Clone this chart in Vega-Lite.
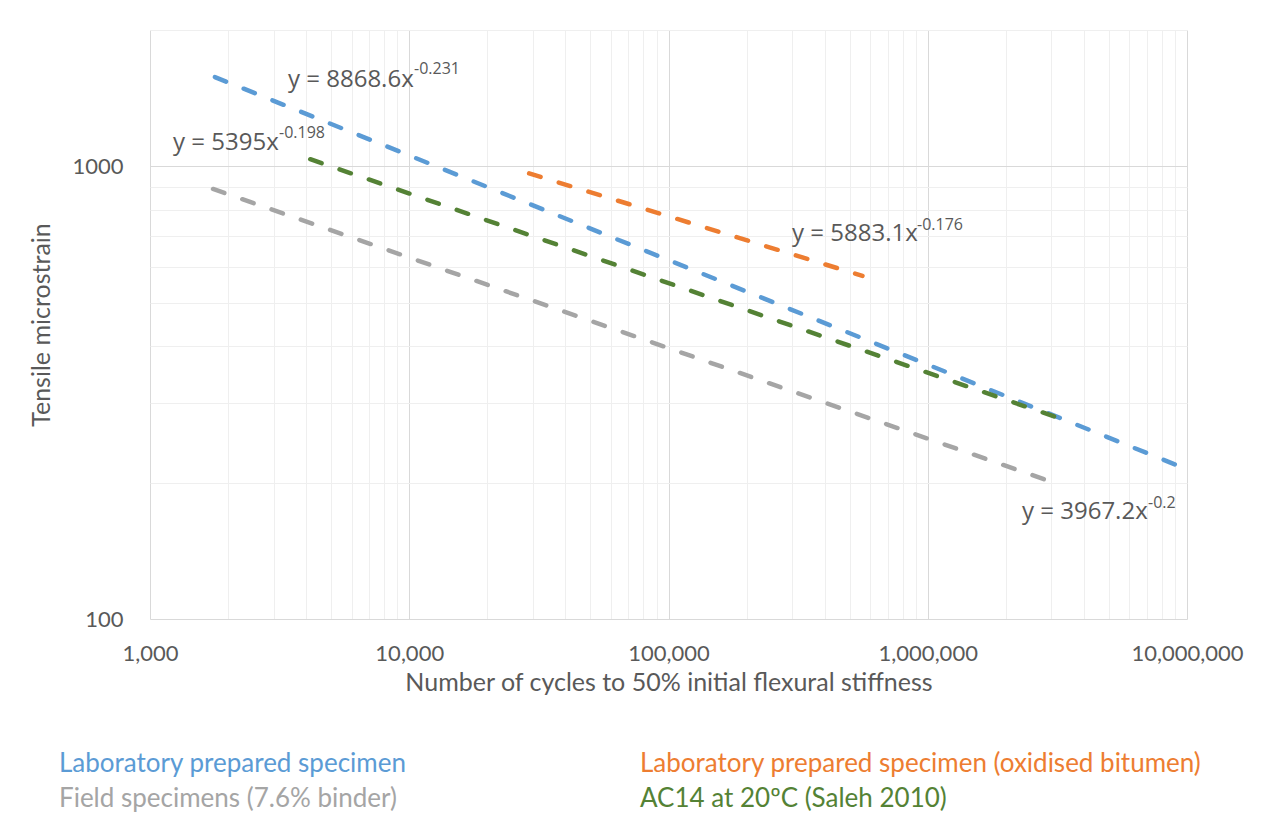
{
  "$schema": "https://vega.github.io/schema/vega-lite/v6.json",
  "width": 1037,
  "height": 589,
  "autosize": {"type": "none"},
  "padding": {"left": 150, "top": 30, "right": 80, "bottom": 205},
  "background": "white",
  "config": {
    "view": {"stroke": null},
    "font": "Lato",
    "axis": {
      "ticks": false,
      "domain": false,
      "labelFontSize": 22,
      "labelColor": "#595959",
      "labelFont": "Lato",
      "titleFont": "Lato",
      "titleFontSize": 25,
      "titleFontWeight": "normal",
      "titleColor": "#595959",
      "labelOverlap": false,
      "labelBound": false,
      "labelFlush": false,
      "gridWidth": 1
    },
    "legend": {
      "orient": "none",
      "legendX": -117,
      "legendY": 721,
      "columns": 2,
      "columnPadding": 207,
      "rowPadding": 9,
      "labelFontSize": 26,
      "labelFont": "Lato",
      "symbolOpacity": 0,
      "symbolSize": 0,
      "symbolStrokeWidth": 0,
      "labelOffset": 0,
      "labelLimit": 0,
      "title": null
    }
  },
  "datasets": {
    "lines": [
      {"series": "Laboratory prepared specimen", "cycles": 1780, "strain": 1573.9},
      {"series": "Laboratory prepared specimen", "cycles": 10000000, "strain": 214.2},
      {"series": "Laboratory prepared specimen (oxidised bitumen)", "cycles": 29000, "strain": 964.3},
      {"series": "Laboratory prepared specimen (oxidised bitumen)", "cycles": 560000, "strain": 572.7},
      {"series": "Field specimens (7.6% binder)", "cycles": 1750, "strain": 890.9},
      {"series": "Field specimens (7.6% binder)", "cycles": 2850000, "strain": 203.0},
      {"series": "AC14 at 20ºC (Saleh 2010)", "cycles": 4150, "strain": 1036.5},
      {"series": "AC14 at 20ºC (Saleh 2010)", "cycles": 3400000, "strain": 274.6}
    ],
    "labels": [
      {"eq": "y = 8868.6x", "sup": "-0.231", "start": 3407, "junction": 10430, "strain": 1551, "supStrain": 1640},
      {"eq": "y = 5395x", "sup": "-0.198", "start": 1227, "junction": 3146, "strain": 1125, "supStrain": 1185},
      {"eq": "y = 5883.1x", "sup": "-0.176", "start": 299600, "junction": 909000, "strain": 707, "supStrain": 740},
      {"eq": "y = 3967.2x", "sup": "-0.2", "start": 2310000, "junction": 7073000, "strain": 172.6, "supStrain": 180}
    ]
  },
  "layer": [
    {
      "data": {"name": "lines"},
      "mark": {"type": "line", "strokeWidth": 4.5, "strokeDash": [12, 19], "strokeCap": "round"},
      "encoding": {
        "x": {
          "field": "cycles",
          "type": "quantitative",
          "scale": {"type": "log", "domain": [1000, 10000000], "nice": false},
          "axis": {
            "title": "Number of cycles to 50% initial flexural stiffness",
            "values": [1000, 2000, 3000, 4000, 5000, 6000, 7000, 8000, 9000, 10000, 20000, 30000, 40000, 50000, 60000, 70000, 80000, 90000, 100000, 200000, 300000, 400000, 500000, 600000, 700000, 800000, 900000, 1000000, 2000000, 3000000, 4000000, 5000000, 6000000, 7000000, 8000000, 9000000, 10000000],
            "labelExpr": "indexof([1000, 10000, 100000, 1000000, 10000000], datum.value) >= 0 ? format(datum.value, ',') : ''",
            "labelPadding": 24,
            "titlePadding": 6,
            "gridColor": {"condition": {"test": "indexof([1000, 10000, 100000, 1000000, 10000000], datum.value) >= 0", "value": "#d9d9d9"}, "value": "#efefef"}
          }
        },
        "y": {
          "field": "strain",
          "type": "quantitative",
          "scale": {"type": "log", "domain": [100, 2000], "nice": false},
          "axis": {
            "title": "Tensile microstrain",
            "values": [100, 200, 300, 400, 500, 600, 700, 800, 900, 1000, 2000],
            "labelExpr": "indexof([100, 1000], datum.value) >= 0 ? format(datum.value, 'd') : ''",
            "labelPadding": 27,
            "titlePadding": 17,
            "gridColor": {"condition": {"test": "indexof([100, 1000], datum.value) >= 0", "value": "#d9d9d9"}, "value": "#efefef"}
          }
        },
        "color": {
          "field": "series",
          "type": "nominal",
          "scale": {
            "domain": ["Laboratory prepared specimen", "Field specimens (7.6% binder)", "Laboratory prepared specimen (oxidised bitumen)", "AC14 at 20ºC (Saleh 2010)"],
            "range": ["#5B9BD5", "#A5A5A5", "#ED7D31", "#548235"]
          },
          "legend": {
            "labelColor": {"expr": "scale('color', datum.value)"}
          }
        }
      }
    },
    {
      "data": {"name": "labels"},
      "mark": {"type": "text", "align": "left", "baseline": "middle", "fontSize": 24, "color": "#595959", "font": "Open Sans"},
      "encoding": {
        "x": {"field": "start", "type": "quantitative"},
        "y": {"field": "strain", "type": "quantitative"},
        "text": {"field": "eq"}
      }
    },
    {
      "data": {"name": "labels"},
      "mark": {"type": "text", "align": "left", "baseline": "middle", "fontSize": 16, "color": "#595959", "font": "Open Sans"},
      "encoding": {
        "x": {"field": "junction", "type": "quantitative"},
        "y": {"field": "supStrain", "type": "quantitative"},
        "text": {"field": "sup"}
      }
    }
  ]
}
